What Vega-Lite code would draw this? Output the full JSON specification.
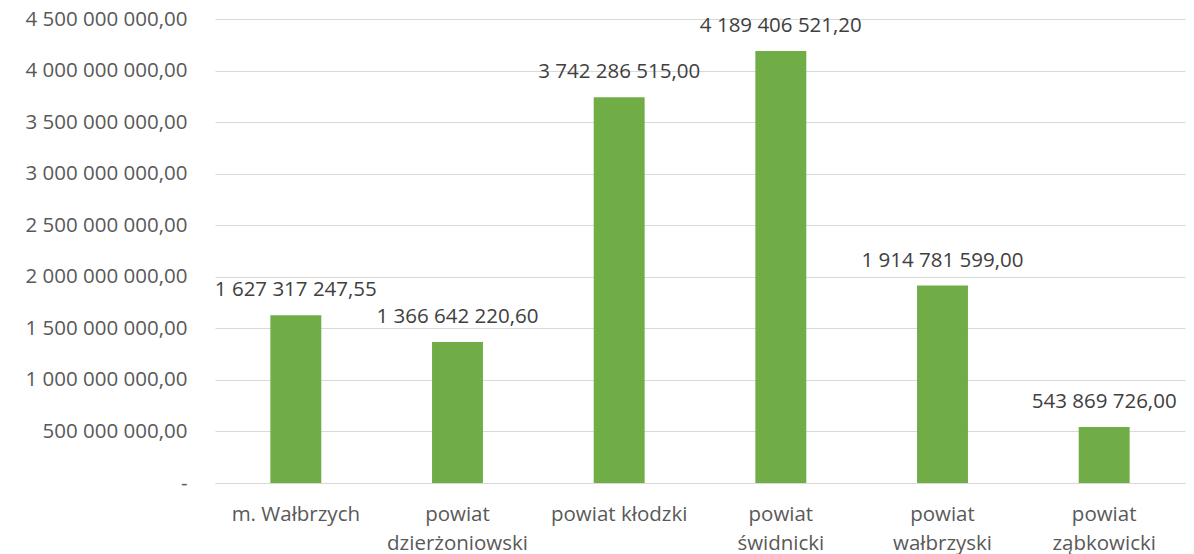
{
  "$schema": "https://vega.github.io/schema/vega-lite/v6.json",
  "width": 970,
  "height": 464,
  "autosize": "none",
  "padding": {"left": 215, "top": 19, "right": 9, "bottom": 71},
  "config": {
    "view": {"stroke": null},
    "locale": {"number": {"decimal": ",", "thousands": " ", "grouping": [3], "currency": ["", ""]}},
    "font": "Open Sans"
  },
  "data": {
    "values": [
      {"region": "m. Wałbrzych", "value": 1627317247.55},
      {"region": "powiat dzierżoniowski", "value": 1366642220.60},
      {"region": "powiat kłodzki", "value": 3742286515.00},
      {"region": "powiat świdnicki", "value": 4189406521.20},
      {"region": "powiat wałbrzyski", "value": 1914781599.00},
      {"region": "powiat ząbkowicki", "value": 543869726.00}
    ]
  },
  "encoding": {
    "x": {
      "field": "region",
      "type": "nominal",
      "sort": null,
      "scale": {"paddingInner": 0.685, "paddingOuter": 0.3425},
      "axis": {
        "title": null,
        "labelAngle": 0,
        "ticks": false,
        "domainColor": "#d9d9d9",
        "domainWidth": 1,
        "labelFont": "Open Sans",
        "labelFontSize": 20.5,
        "labelColor": "#595959",
        "labelPadding": 21,
        "labelBaseline": "top",
        "labelLineHeight": 29,
        "labelExpr": "(datum.label == 'm. Wałbrzych' || datum.label == 'powiat kłodzki') ? datum.label : split(datum.label, ' ')"
      }
    },
    "y": {
      "field": "value",
      "type": "quantitative",
      "scale": {"domain": [0, 4500000000], "nice": false},
      "axis": {
        "title": null,
        "values": [0, 500000000, 1000000000, 1500000000, 2000000000, 2500000000, 3000000000, 3500000000, 4000000000, 4500000000],
        "ticks": false,
        "domain": false,
        "gridColor": "#d9d9d9",
        "gridWidth": 1,
        "labelFont": "Open Sans",
        "labelFontSize": 20.5,
        "labelColor": "#595959",
        "labelPadding": 28,
        "labelExpr": "datum.value == 0 ? '-\u00a0' : format(datum.value, ',.2f')"
      }
    }
  },
  "layer": [
    {"mark": {"type": "bar", "color": "#70AD47"}},
    {
      "mark": {"type": "text", "baseline": "bottom", "dy": -15, "fontSize": 20.5, "color": "#404040", "font": "Open Sans"},
      "encoding": {"text": {"field": "value", "type": "quantitative", "format": ",.2f"}}
    }
  ]
}
